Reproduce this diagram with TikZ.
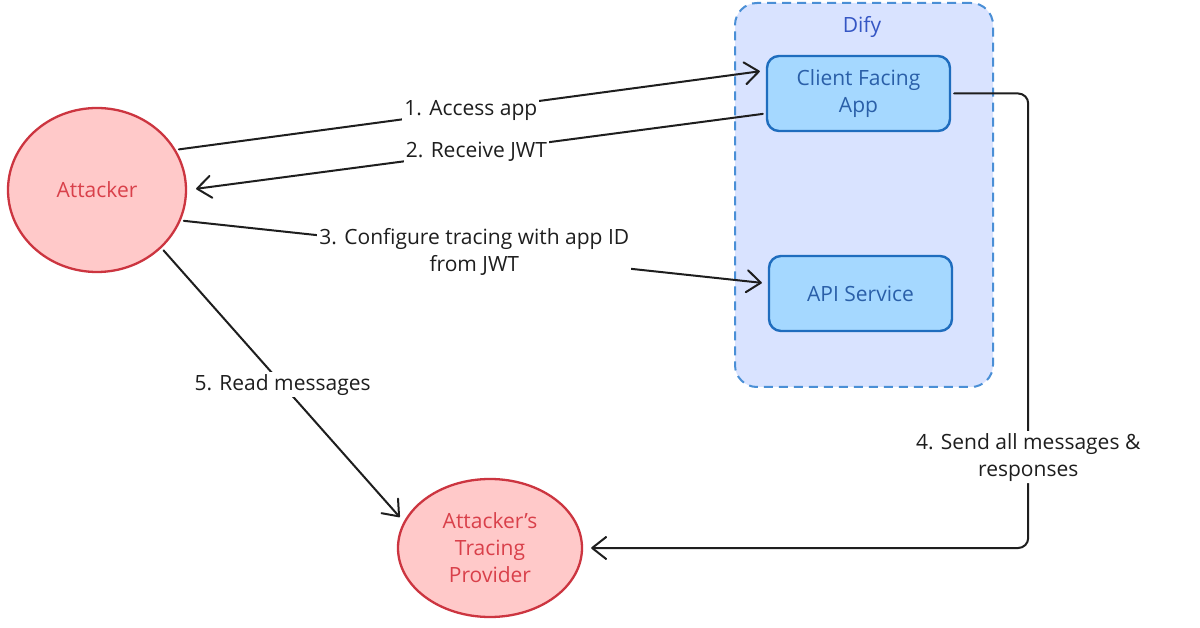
\documentclass[tikz,border=0pt]{standalone}
\usepackage{fontspec}
\setmainfont{Open Sans}
\usetikzlibrary{arrows.meta,shapes.geometric}
\definecolor{attackfill}{HTML}{FFC9C9}
\definecolor{attackline}{HTML}{CC3540}
\definecolor{attacktext}{HTML}{D9404A}
\definecolor{difyfill}{HTML}{D9E3FF}
\definecolor{difyline}{HTML}{4A8FD6}
\definecolor{difytext}{HTML}{3556C4}
\definecolor{svcfill}{HTML}{A5D8FF}
\definecolor{svcline}{HTML}{1F6DBE}
\definecolor{svctext}{HTML}{2A5FA8}
\definecolor{ink}{HTML}{1E1E1E}

\begin{document}
\begin{tikzpicture}[
    x=1pt, y=-1pt,
    font=\fontsize{21}{27}\selectfont,
    actor/.style={
      ellipse,
      draw=attackline,
      fill=attackfill,
      line width=2.3pt,
      text=attacktext,
      align=center,
      inner sep=0pt
    },
    boundary/.style={
      rectangle,
      rounded corners=22pt,
      draw=difyline,
      fill=difyfill,
      line width=2pt,
      dash pattern=on 9pt off 6pt
    },
    service/.style={
      rectangle,
      rounded corners=12pt,
      draw=svcline,
      fill=svcfill,
      line width=2.4pt,
      text=svctext,
      align=center,
      minimum width=183pt,
      minimum height=75pt,
      inner sep=0pt
    },
    flow/.style={
      -{Straight Barb[length=14pt,width=22pt,line width=2pt,round]},
      draw=ink,
      line width=2pt,
      line cap=round,
      shorten <=3pt,
      shorten >=6pt
    },
    msg/.style={
      fill=white,
      text=ink,
      inner sep=2pt,
      align=center
    }
  ]
    \fill[white] (0,0) rectangle (1200,628);
    \useasboundingbox (0,0) rectangle (1200,628);

    % Dify boundary and its services
    \node[boundary, minimum width=258pt, minimum height=384pt] (dify) at (864,195) {};
    \node[text=difytext] (difytitle) at (862,27) {Dify};
    \node[service] (app) at (858.5,93.5) {Client Facing\\App};
    \node[service] (api) at (860.5,293.5) {API Service};

    % attacker side
    \node[actor, minimum width=178pt, minimum height=164pt] (attacker) at (97,190) {Attacker};
    \node[actor, minimum width=184pt, minimum height=138pt] (tracer) at (490,548) {Attacker's\\Tracing\\Provider};

    \draw[flow] (attacker.27) -- node[msg] {1. Access app} ([yshift=23pt]app.west);
    \draw[flow, shorten >=9pt] ([yshift=-20pt]app.west) -- node[msg] {2. Receive JWT} (attacker.east);
    \draw[flow] (attacker.-20) -- node[msg] {3. Configure tracing with app ID\\from JWT} ([yshift=10pt]api.west);
    \draw[flow, rounded corners=10pt, shorten >=8pt] (app.east) -- ++(77,0) |- node[msg, pos=0.4] {4. Send all messages \&\\responses} (tracer.east);
    \draw[flow] (attacker.-42) -- node[msg] {5. Read messages} (tracer.163);
  \end{tikzpicture}
\end{document}
